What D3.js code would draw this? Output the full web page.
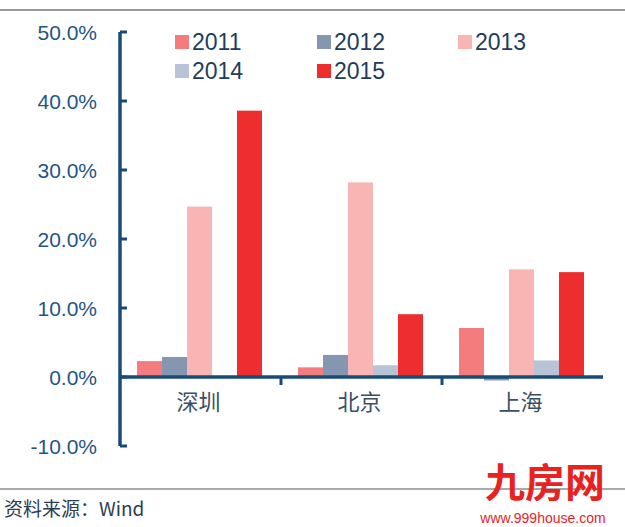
<!DOCTYPE html>
<html><head><meta charset="utf-8">
<script src="https://cdn.jsdelivr.net/npm/d3@7"></script>
<style>body{margin:0;background:#fff}</style></head>
<body><div id="chart"></div>
<script>
var cities = ["深圳", "北京", "上海"];
var years = ["2011", "2012", "2013", "2014", "2015"];
var values = {
  "2011": [2.3, 1.4, 7.1],
  "2012": [2.9, 3.2, -0.5],
  "2013": [24.7, 28.2, 15.6],
  "2014": [0, 1.7, 2.4],
  "2015": [38.6, 9.1, 15.2]
};
var colors = ["#f47c7c", "#8496b0", "#f9b4b4", "#b8c4d6", "#ee2e2e"];
var yTicks = [-10, 0, 10, 20, 30, 40, 50];

var W = 625, H = 527, navy = "#1a4a78";
var svg = d3.select("#chart").append("svg").attr("width", W).attr("height", H)
  .style("font-family", "Liberation Sans, Arial, sans-serif");

// top and bottom rules
svg.append("line").attr("x1", 0).attr("x2", W).attr("y1", 10).attr("y2", 10)
  .attr("stroke", "#777").attr("stroke-width", 1.5);
svg.append("line").attr("x1", 0).attr("x2", W).attr("y1", 489).attr("y2", 489)
  .attr("stroke", "#555").attr("stroke-width", 1);

var x0 = d3.scaleBand().domain(cities).range([120, 603]);
var x1 = d3.scaleBand().domain(years).range([17, x0.bandwidth() - 19]);
var y = d3.scaleLinear().domain([-10, 50]).range([446, 32]);

// bars
years.forEach(function(yr, j) {
  svg.append("g").selectAll("rect").data(values[yr]).enter().append("rect")
    .attr("x", (d, i) => x0(cities[i]) + x1(yr))
    .attr("width", x1.bandwidth())
    .attr("y", d => y(Math.max(0, d)))
    .attr("height", d => Math.abs(y(d) - y(0)))
    .attr("fill", colors[j]);
});

// y axis
svg.append("line").attr("x1", 120).attr("x2", 120).attr("y1", y(50)).attr("y2", y(-10))
  .attr("stroke", navy).attr("stroke-width", 3.5);
svg.selectAll(".yt").data(yTicks).enter().append("line")
  .attr("x1", 120).attr("x2", 127).attr("y1", d => y(d)).attr("y2", d => y(d))
  .attr("stroke", navy).attr("stroke-width", 3);
svg.selectAll(".yl").data(yTicks).enter().append("text")
  .attr("x", 97).attr("y", d => y(d)).attr("dy", "0.36em")
  .attr("text-anchor", "end").attr("font-size", 21).attr("fill", "#1f5585")
  .text(d => d.toFixed(1) + "%");

// x axis
svg.append("line").attr("x1", 120).attr("x2", 603).attr("y1", y(0)).attr("y2", y(0))
  .attr("stroke", navy).attr("stroke-width", 3.5);
svg.selectAll(".xt").data(cities.slice(1)).enter().append("line")
  .attr("x1", d => x0(d)).attr("x2", d => x0(d)).attr("y1", y(0)).attr("y2", y(0) + 8)
  .attr("stroke", navy).attr("stroke-width", 3);
svg.selectAll(".xl").data(cities).enter().append("text")
  .attr("x", d => x0(d) + x0.bandwidth() / 2 - 2).attr("y", 410)
  .attr("text-anchor", "middle").attr("font-size", 22).attr("fill", "#3a4f66")
  .style("font-family", "Noto Sans CJK SC").text(d => d);

// legend
var legX = [185, 327, 468];
years.forEach(function(yr, j) {
  var lx = legX[j % 3], ly = j < 3 ? 42 : 71;
  svg.append("rect").attr("x", lx - 10).attr("y", ly - 7).attr("width", 14).attr("height", 14)
    .attr("fill", colors[j]);
  svg.append("text").attr("x", lx + 7).attr("y", ly).attr("dy", "0.36em")
    .attr("font-size", 23).attr("fill", "#1e3d5c").text(yr);
});

// source
svg.append("text").attr("x", 4).attr("y", 516).attr("font-size", 19).attr("fill", "#2a3d52")
  .style("font-family", "Noto Sans CJK SC").text("资料来源：Wind");

// watermark
svg.append("text").attr("x", 545).attr("y", 497).attr("text-anchor", "middle")
  .attr("font-size", 40).attr("font-weight", "bold").attr("fill", "#e8231f")
  .style("font-family", "Noto Sans CJK SC").text("九房网");
svg.append("text").attr("x", 543).attr("y", 523).attr("text-anchor", "middle")
  .attr("font-size", 14).attr("fill", "#e8231f").text("www.999house.com");
</script></body></html>
